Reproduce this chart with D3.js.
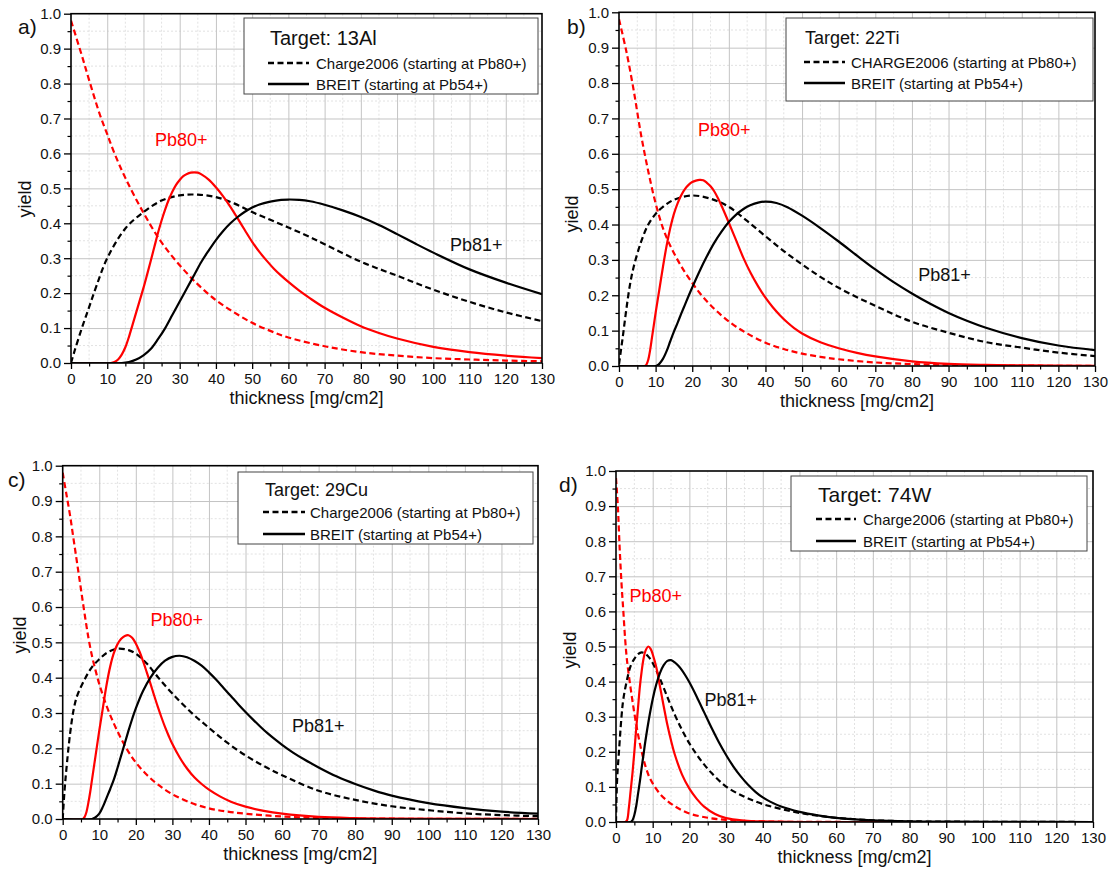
<!DOCTYPE html>
<html><head><meta charset="utf-8">
<script src="https://cdn.jsdelivr.net/npm/d3@7"></script>
<style>
body{margin:0;background:#fff;}
svg{font-family:"Liberation Sans",Arial,sans-serif;}
</style></head>
<body><svg id="c" width="1113" height="870"></svg>
<script>
// ---------- data (thickness [mg/cm2], yield) ----------
const xTicks = [0,10,20,30,40,50,60,70,80,90,100,110,120,130];
const yTicks = [0,0.1,0.2,0.3,0.4,0.5,0.6,0.7,0.8,0.9,1.0];
const legendCharge = ["Charge2006 (starting at Pb80+)","CHARGE2006 (starting at Pb80+)","Charge2006 (starting at Pb80+)","Charge2006 (starting at Pb80+)"];
const legendBreit = "BREIT (starting at Pb54+)";
const targets = ["Target: 13Al","Target: 22Ti","Target: 29Cu","Target: 74W"];
const panelLabels = ["a)","b)","c)","d)"];

// a) 13Al
const alCharge80 = [[0,0.98],[3,0.88],[5,0.81],[8,0.71],[10,0.655],[12,0.6],[15,0.53],[20,0.43],[25,0.345],[30,0.28],[35,0.225],[40,0.18],[45,0.145],[50,0.115],[55,0.092],[60,0.073],[70,0.048],[80,0.031],[90,0.021],[100,0.014],[110,0.01],[120,0.007],[130,0.005]];
const alCharge81 = [[0,0],[1,0.035],[3,0.1],[5,0.16],[7,0.22],[10,0.3],[15,0.385],[20,0.432],[25,0.465],[30,0.48],[35,0.482],[40,0.475],[45,0.457],[50,0.432],[55,0.41],[60,0.388],[65,0.365],[70,0.34],[80,0.29],[90,0.25],[100,0.21],[110,0.175],[120,0.145],[130,0.12]];
const alBreit80 = [[0,0],[11,0],[12,0.003],[13,0.01],[14,0.024],[15,0.045],[16,0.075],[17,0.11],[18,0.145],[19,0.18],[20,0.215],[21,0.253],[22,0.292],[23,0.332],[24,0.372],[25,0.408],[26,0.44],[27,0.468],[28,0.491],[29,0.51],[30,0.524],[31,0.535],[32,0.541],[33,0.545],[34,0.546],[35,0.545],[36,0.54],[38,0.525],[40,0.503],[42,0.477],[44,0.447],[46,0.414],[48,0.38],[50,0.347],[52,0.318],[54,0.293],[56,0.27],[58,0.25],[60,0.232],[63,0.207],[66,0.185],[70,0.158],[75,0.13],[80,0.105],[85,0.086],[90,0.07],[100,0.046],[110,0.031],[120,0.021],[130,0.014]];
const alBreit81 = [[0,0],[14,0],[16,0.003],[18,0.01],[20,0.022],[22,0.04],[24,0.068],[26,0.1],[28,0.138],[30,0.176],[32,0.214],[34,0.252],[36,0.29],[38,0.322],[40,0.352],[42,0.378],[44,0.4],[46,0.418],[48,0.433],[50,0.445],[52,0.454],[55,0.462],[58,0.467],[60,0.468],[63,0.467],[66,0.463],[70,0.453],[75,0.437],[80,0.418],[85,0.395],[90,0.369],[95,0.342],[100,0.316],[110,0.268],[120,0.23],[130,0.197]];

// b) 22Ti
const tiCharge80 = [[0,0.98],[2,0.89],[4,0.78],[6,0.655],[8,0.55],[10,0.46],[12,0.39],[14,0.34],[16,0.3],[18,0.265],[20,0.235],[22,0.207],[24,0.183],[26,0.162],[28,0.143],[30,0.126],[32,0.111],[35,0.092],[40,0.066],[45,0.048],[50,0.035],[55,0.026],[60,0.019],[70,0.01],[80,0.0055],[90,0.003],[100,0.0017],[115,0.0008],[130,0.0004]];
const tiCharge81 = [[0,0.005],[1,0.08],[2,0.16],[3,0.23],[4,0.28],[6,0.35],[8,0.4],[10,0.43],[12,0.45],[15,0.47],[20,0.482],[25,0.473],[30,0.45],[35,0.41],[40,0.367],[45,0.325],[50,0.287],[55,0.252],[60,0.221],[70,0.17],[80,0.125],[90,0.094],[100,0.068],[110,0.052],[120,0.038],[130,0.028]];
const tiBreit80 = [[0,0],[7,0],[7.5,0.004],[8,0.018],[8.5,0.045],[9,0.08],[9.5,0.115],[10,0.15],[11,0.215],[12,0.28],[13,0.34],[14,0.39],[15,0.43],[16,0.46],[17,0.483],[18,0.5],[19,0.512],[20,0.52],[21,0.524],[22,0.526],[23,0.525],[24,0.518],[25,0.508],[26,0.494],[27,0.475],[28,0.453],[30,0.405],[32,0.355],[34,0.305],[36,0.262],[38,0.225],[40,0.193],[42,0.166],[44,0.143],[46,0.123],[48,0.106],[50,0.092],[55,0.067],[60,0.05],[65,0.037],[70,0.027],[80,0.013],[90,0.006],[100,0.003],[110,0.0015],[130,0.0005]];
const tiBreit81 = [[0,0],[10,0],[10.5,0.002],[11,0.006],[12,0.02],[13,0.042],[14,0.07],[15,0.097],[16,0.122],[17,0.148],[18,0.173],[19,0.198],[20,0.222],[22,0.268],[24,0.31],[26,0.348],[28,0.38],[30,0.407],[32,0.428],[34,0.444],[36,0.455],[38,0.462],[40,0.465],[43,0.461],[46,0.449],[50,0.425],[55,0.39],[60,0.352],[65,0.312],[70,0.273],[75,0.237],[80,0.205],[85,0.176],[90,0.15],[95,0.128],[100,0.109],[110,0.079],[120,0.058],[130,0.045]];

// c) 29Cu
const cuCharge80 = [[0,0.98],[1,0.92],[2,0.86],[3,0.79],[4,0.72],[5,0.65],[6,0.58],[7,0.515],[8,0.462],[9,0.42],[10,0.382],[12,0.32],[14,0.27],[16,0.227],[18,0.19],[20,0.16],[23,0.125],[26,0.098],[30,0.07],[35,0.046],[40,0.03],[45,0.021],[50,0.015],[60,0.007],[70,0.003],[80,0.0015],[100,0.0005],[130,0.0001]];
const cuCharge81 = [[0,0],[0.5,0.08],[1,0.14],[2,0.24],[3,0.31],[4,0.35],[6,0.395],[8,0.43],[10,0.452],[12,0.47],[15,0.482],[18,0.478],[20,0.468],[23,0.44],[26,0.402],[30,0.355],[35,0.303],[40,0.258],[45,0.216],[50,0.18],[55,0.15],[60,0.124],[70,0.08],[80,0.054],[90,0.036],[100,0.025],[110,0.016],[120,0.011],[130,0.008]];
const cuBreit80 = [[0,0],[5.5,0],[6,0.006],[6.5,0.02],[7,0.045],[7.5,0.075],[8,0.11],[9,0.18],[10,0.25],[11,0.315],[12,0.38],[13,0.432],[14,0.47],[15,0.495],[16,0.51],[17,0.518],[18,0.52],[19,0.513],[20,0.497],[21,0.474],[22,0.446],[23,0.415],[24,0.383],[25,0.35],[26,0.318],[27,0.288],[28,0.26],[29,0.235],[30,0.212],[32,0.174],[34,0.143],[36,0.118],[38,0.099],[40,0.083],[43,0.064],[46,0.049],[50,0.035],[55,0.023],[60,0.015],[70,0.006],[80,0.0025],[90,0.001],[130,0]];
const cuBreit81 = [[0,0],[8,0],[9,0.005],[10,0.015],[11,0.035],[12,0.06],[13,0.085],[14,0.112],[15,0.145],[16,0.18],[17,0.215],[18,0.25],[19,0.283],[20,0.313],[22,0.363],[24,0.4],[26,0.428],[28,0.448],[30,0.459],[32,0.462],[34,0.458],[36,0.448],[38,0.434],[40,0.415],[42,0.394],[44,0.371],[46,0.348],[48,0.325],[50,0.303],[52,0.282],[54,0.262],[56,0.243],[58,0.226],[60,0.21],[63,0.188],[66,0.169],[70,0.146],[75,0.12],[80,0.099],[85,0.081],[90,0.066],[100,0.045],[110,0.031],[120,0.021],[130,0.015]];

// d) 74W
const wCharge80 = [[0,0.98],[0.5,0.9],[1,0.78],[1.5,0.68],[2,0.6],[2.5,0.52],[3,0.46],[4,0.38],[5,0.31],[6,0.25],[7,0.2],[8,0.16],[9,0.13],[10,0.11],[12,0.08],[14,0.06],[16,0.045],[18,0.033],[20,0.024],[25,0.012],[30,0.006],[35,0.003],[40,0.0015],[50,0.0004],[130,0]];
const wCharge81 = [[0,0],[0.3,0.12],[0.8,0.2],[1.5,0.3],[2,0.35],[3,0.405],[4,0.445],[5,0.465],[6,0.478],[7,0.483],[8,0.479],[9,0.469],[10,0.453],[11,0.432],[12,0.408],[14,0.356],[16,0.306],[18,0.262],[20,0.224],[22,0.192],[24,0.164],[26,0.14],[28,0.119],[30,0.101],[33,0.082],[36,0.067],[40,0.051],[45,0.037],[50,0.026],[55,0.018],[60,0.012],[70,0.005],[80,0.002],[90,0.001],[130,0]];
const wBreit80 = [[0,0],[2.5,0],[3,0.005],[3.5,0.04],[4,0.09],[4.5,0.14],[5,0.2],[5.5,0.265],[6,0.325],[6.5,0.385],[7,0.43],[7.5,0.465],[8,0.487],[8.8,0.5],[9.5,0.492],[10,0.478],[11,0.44],[12,0.385],[13,0.33],[14,0.277],[15,0.232],[16,0.193],[18,0.135],[20,0.095],[22,0.066],[24,0.044],[27,0.023],[30,0.011],[35,0.004],[40,0.0015],[50,0],[130,0]];
const wBreit81 = [[0,0],[4,0],[4.5,0.005],[5,0.02],[5.5,0.045],[6,0.08],[6.5,0.115],[7,0.155],[7.5,0.192],[8,0.23],[9,0.295],[10,0.35],[11,0.393],[12,0.425],[13,0.447],[14,0.459],[15,0.461],[16,0.455],[17,0.445],[18,0.432],[19,0.416],[20,0.398],[22,0.357],[24,0.313],[26,0.269],[28,0.228],[30,0.191],[32,0.158],[34,0.13],[36,0.106],[38,0.086],[40,0.07],[42,0.058],[45,0.044],[50,0.029],[55,0.019],[60,0.012],[70,0.005],[80,0.002],[90,0.001],[110,0.0004],[130,0]];

// annotation positions in data coords [x, y]
const pb80Pos = [[23.2,0.622],[21.6,0.65],[24.0,0.547],[3.7,0.627]];
const pb81Pos = [[104.6,0.3215],[81.7,0.24],[62.7,0.247],[24.1,0.33]];

// ---------- layout ----------
const layout = [
  {x0:71,x1:542,y0:13.7,y1:363, lab:[18,34], ylab:[25,199], box:[244,18,294,76], tSize:20, tPos:[270,45], rows:[63,84], sx:[268,309], tx:316},
  {x0:619,x1:1095,y0:12.3,y1:366, lab:[567,34], ylab:[572,214], box:[786,18,307,83], tSize:18, tPos:[805,44], rows:[62,83], sx:[804,845], tx:851},
  {x0:62.7,x1:538,y0:465.7,y1:819, lab:[8,487], ylab:[20,635], box:[238,472,295,72], tSize:18, tPos:[265,495.5], rows:[512,534], sx:[263,305], tx:310},
  {x0:616,x1:1093,y0:471,y1:822, lab:[559,492], ylab:[570,650], box:[791,476,296,75], tSize:21, tPos:[818,501.5], rows:[519,541], sx:[816,856], tx:863}
];
const seriesSets = [
  [alCharge80,alCharge81,alBreit80,alBreit81],
  [tiCharge80,tiCharge81,tiBreit80,tiBreit81],
  [cuCharge80,cuCharge81,cuBreit80,cuBreit81],
  [wCharge80,wCharge81,wBreit80,wBreit81]
];
const seriesStyle = [
  {color:"#ff0000", dash:"6,3.5"},
  {color:"#000000", dash:"6,3.5"},
  {color:"#ff0000", dash:null},
  {color:"#000000", dash:null}
];

const svg = d3.select("#c");
const defs = svg.append("defs");
const FONT = "Liberation Sans, Arial, sans-serif";

layout.forEach((L,i)=>{
  const x = d3.scaleLinear().domain([0,130]).range([L.x0,L.x1]);
  const y = d3.scaleLinear().domain([0,1]).range([L.y1,L.y0]);
  const g = svg.append("g");
  const clipId = "clip"+i;
  defs.append("clipPath").attr("id",clipId).append("rect")
    .attr("x",L.x0).attr("y",L.y0-2).attr("width",L.x1-L.x0).attr("height",L.y1-L.y0+2);

  // minor grid
  const xMinor = d3.range(5,130,10);
  const yMinor = d3.range(0.05,1,0.1);
  g.selectAll(".xmg").data(xMinor).join("line")
    .attr("x1",d=>x(d)).attr("x2",d=>x(d)).attr("y1",L.y0).attr("y2",L.y1)
    .attr("stroke","#dadada").attr("stroke-width",0.8).attr("stroke-dasharray","2,2");
  g.selectAll(".ymg").data(yMinor).join("line")
    .attr("y1",d=>y(d)).attr("y2",d=>y(d)).attr("x1",L.x0).attr("x2",L.x1)
    .attr("stroke","#dadada").attr("stroke-width",0.8).attr("stroke-dasharray","2,2");
  // major grid
  g.append("g").attr("transform",`translate(0,${L.y1})`)
    .call(d3.axisBottom(x).tickValues(xTicks.slice(1,-1)).tickSize(-(L.y1-L.y0)).tickFormat(""))
    .call(s=>{s.select(".domain").remove(); s.selectAll("line").attr("stroke","#c4c4c4").attr("stroke-width",1);});
  g.append("g").attr("transform",`translate(${L.x0},0)`)
    .call(d3.axisLeft(y).tickValues(yTicks.slice(1,-1)).tickSize(-(L.x1-L.x0)).tickFormat(""))
    .call(s=>{s.select(".domain").remove(); s.selectAll("line").attr("stroke","#c4c4c4").attr("stroke-width",1);});

  // curves
  const line = d3.line().x(d=>x(d[0])).y(d=>y(d[1])).curve(d3.curveCatmullRom.alpha(0.5));
  const cg = g.append("g").attr("clip-path",`url(#${clipId})`);
  seriesSets[i].forEach((s,k)=>{
    const st = seriesStyle[k];
    cg.append("path").datum(s).attr("d",line).attr("fill","none")
      .attr("stroke",st.color).attr("stroke-width",2.2)
      .attr("stroke-dasharray",st.dash);
  });

  // minor ticks
  g.append("g").attr("transform",`translate(0,${L.y1})`)
    .call(d3.axisBottom(x).tickValues(xMinor).tickSize(3.5).tickFormat(""))
    .call(s=>{s.select(".domain").remove(); s.selectAll("line").attr("stroke","#000").attr("stroke-width",1.2);});
  g.append("g").attr("transform",`translate(${L.x0},0)`)
    .call(d3.axisLeft(y).tickValues(yMinor).tickSize(3.5).tickFormat(""))
    .call(s=>{s.select(".domain").remove(); s.selectAll("line").attr("stroke","#000").attr("stroke-width",1.2);});
  // major axes
  g.append("g").attr("transform",`translate(0,${L.y1})`)
    .call(d3.axisBottom(x).tickValues(xTicks).tickSize(6).tickPadding(4).tickFormat(d3.format("d")))
    .call(s=>{s.select(".domain").remove(); s.selectAll("line").attr("stroke","#000").attr("stroke-width",1.3);
      s.selectAll("text").attr("font-size",15).attr("fill","#111").attr("font-family",FONT);});
  g.append("g").attr("transform",`translate(${L.x0},0)`)
    .call(d3.axisLeft(y).tickValues(yTicks).tickSize(7).tickPadding(3).tickFormat(d3.format(".1f")))
    .call(s=>{s.select(".domain").remove(); s.selectAll("line").attr("stroke","#000").attr("stroke-width",1.3);
      s.selectAll("text").attr("font-size",15).attr("fill","#111").attr("font-family",FONT);});
  // frame
  g.append("rect").attr("x",L.x0).attr("y",L.y0).attr("width",L.x1-L.x0).attr("height",L.y1-L.y0)
    .attr("fill","none").attr("stroke","#000").attr("stroke-width",1.6);

  // axis titles
  g.append("text").attr("x",(L.x0+L.x1)/2).attr("y",L.y1+41).attr("text-anchor","middle")
    .attr("font-size",18).attr("fill","#111").text("thickness [mg/cm2]");
  g.append("text").attr("transform",`translate(${L.ylab[0]},${L.ylab[1]}) rotate(-90)`)
    .attr("text-anchor","middle").attr("dominant-baseline","central")
    .attr("font-size",18).attr("fill","#111").text("yield");
  // panel label
  g.append("text").attr("x",L.lab[0]).attr("y",L.lab[1]).attr("font-size",21).attr("fill","#111").text(panelLabels[i]);

  // annotations
  g.append("text").attr("x",x(pb80Pos[i][0])).attr("y",y(pb80Pos[i][1]))
    .attr("font-size",18).attr("fill","#ff0000").text("Pb80+");
  g.append("text").attr("x",x(pb81Pos[i][0])).attr("y",y(pb81Pos[i][1]))
    .attr("font-size",18).attr("fill","#111").text("Pb81+");

  // legend
  const lg = g.append("g");
  lg.append("rect").attr("x",L.box[0]).attr("y",L.box[1]).attr("width",L.box[2]).attr("height",L.box[3])
    .attr("fill","#fff").attr("stroke","#444").attr("stroke-width",1);
  lg.append("text").attr("x",L.tPos[0]).attr("y",L.tPos[1]).attr("font-size",L.tSize).attr("fill","#111").text(targets[i]);
  const entries = [{t:legendCharge[i],dash:"6,3.5"},{t:legendBreit,dash:null}];
  entries.forEach((e,k)=>{
    lg.append("line").attr("x1",L.sx[0]).attr("x2",L.sx[1]).attr("y1",L.rows[k]).attr("y2",L.rows[k])
      .attr("stroke","#000").attr("stroke-width",2.4).attr("stroke-dasharray",e.dash);
    lg.append("text").attr("x",L.tx).attr("y",L.rows[k]).attr("dominant-baseline","central")
      .attr("font-size",15).attr("fill","#111").text(e.t);
  });
});
</script></body></html>
